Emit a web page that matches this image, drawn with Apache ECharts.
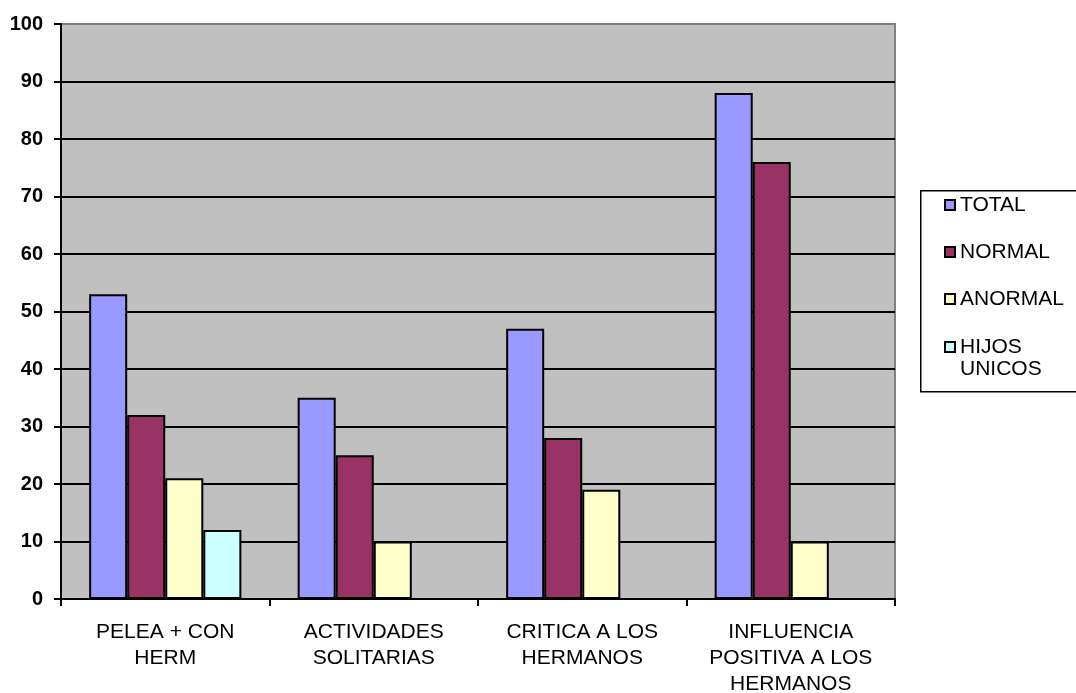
<!DOCTYPE html>
<html>
<head>
<meta charset="utf-8">
<script src="https://cdn.jsdelivr.net/npm/echarts@6/dist/echarts.min.js"></script>
<style>
html,body{margin:0;padding:0;background:#fff;}
#chart{width:1076px;height:693px;}
</style>
</head>
<body>
<div id="chart"></div>
<script>
var categories = ['PELEA + CON\nHERM', 'ACTIVIDADES\nSOLITARIAS', 'CRITICA A LOS\nHERMANOS', 'INFLUENCIA\nPOSITIVA A LOS\nHERMANOS'];
var seriesNames = ['TOTAL', 'NORMAL', 'ANORMAL', 'HIJOS UNICOS'];
var totalValues = [53, 35, 47, 88];
var normalValues = [32, 25, 28, 76];
var anormalValues = [21, 10, 19, 10];
var hijosUnicosValues = [12, null, null, null];
var colors = ['#9999FF', '#993366', '#FFFFCC', '#CCFFFF'];

var font = '"Liberation Sans", Arial, sans-serif';
var chart = echarts.init(document.getElementById('chart'), null, {renderer: 'canvas'});

function bar(name, data, color) {
  return {
    name: name,
    type: 'bar',
    data: data,
    barGap: '0%',
    barCategoryGap: '27%',
    itemStyle: {color: color, borderColor: '#000', borderWidth: 2},
    emphasis: {disabled: true}
  };
}

var splitColors = [];
for (var i = 0; i < 10; i++) splitColors.push('#000');
splitColors.push('#808080');

var legendItemStyle = {borderColor: '#000', borderWidth: 2};

chart.setOption({
  animation: false,
  backgroundColor: '#fff',
  grid: {
    left: 61, right: 181, top: 24, bottom: 94,
    outerBoundsMode: 'none',
    containLabel: false,
    show: true, backgroundColor: '#C0C0C0', borderColor: '#808080', borderWidth: 2
  },
  graphic: [{
    type: 'rect', left: 920, top: 190, z: 0,
    shape: {width: 170, height: 201},
    style: {fill: '#fff', stroke: '#000', lineWidth: 1.5}
  }],
  legend: [{
    orient: 'vertical', left: 944, top: 193, padding: 0,
    itemWidth: 10, itemHeight: 10, itemGap: 23,
    icon: 'rect',
    itemStyle: legendItemStyle,
    data: ['TOTAL', 'NORMAL', 'ANORMAL'],
    textStyle: {fontFamily: font, fontSize: 21, color: '#000', lineHeight: 24},
    selectedMode: false
  }, {
    orient: 'vertical', left: 944, top: 314, padding: 0,
    itemWidth: 10, itemHeight: 10,
    icon: 'rect',
    itemStyle: legendItemStyle,
    data: ['HIJOS UNICOS'],
    formatter: function () { return '\nHIJOS\nUNICOS'; },
    textStyle: {fontFamily: font, fontSize: 21, color: '#000', lineHeight: 22},
    selectedMode: false
  }],
  xAxis: {
    type: 'category',
    data: categories,
    axisLine: {lineStyle: {color: '#000', width: 2}},
    axisTick: {show: true, length: 7, lineStyle: {color: '#000', width: 2}},
    axisLabel: {interval: 0, fontFamily: font, fontSize: 21, color: '#000', lineHeight: 26, margin: 20, align: 'center'},
    splitLine: {show: false}
  },
  yAxis: {
    type: 'value', min: 0, max: 100, interval: 10,
    axisLine: {show: true, lineStyle: {color: '#000', width: 2}},
    axisTick: {show: true, length: 7, lineStyle: {color: '#000', width: 2}},
    axisLabel: {fontFamily: font, fontSize: 20, fontWeight: 'bold', color: '#000', margin: 18},
    splitLine: {show: true, lineStyle: {color: splitColors, width: 2}}
  },
  series: [
    bar(seriesNames[0], totalValues, colors[0]),
    bar(seriesNames[1], normalValues, colors[1]),
    bar(seriesNames[2], anormalValues, colors[2]),
    bar(seriesNames[3], hijosUnicosValues, colors[3])
  ]
});
</script>
</body>
</html>
